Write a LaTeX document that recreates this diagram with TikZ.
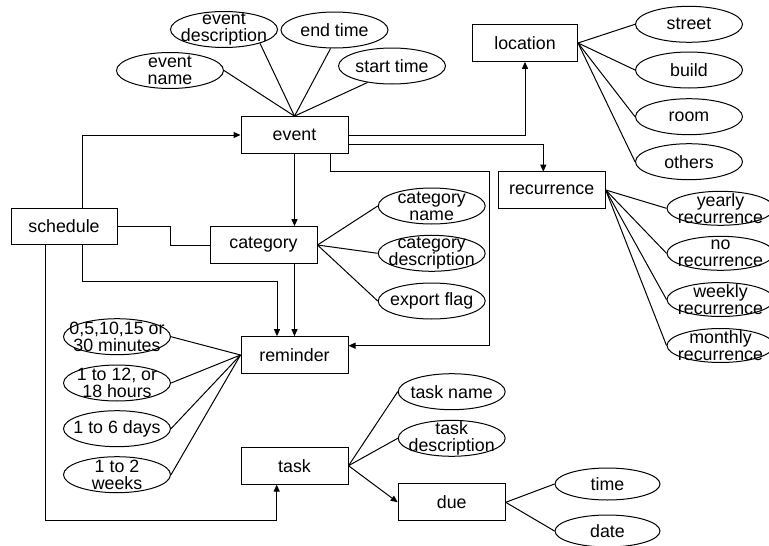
\documentclass[tikz,border=0pt]{standalone}
\usepackage{fontspec}
\setmainfont{Liberation Sans}
\usetikzlibrary{shapes.geometric,arrows.meta}
\newcommand\dfont{\fontsize{17.8}{17}\selectfont}
\tikzset{
  ent/.style={draw, line width=1pt, rectangle, minimum width=107pt, minimum height=36.7pt, inner sep=0pt, font=\dfont},
  lab/.style={align=center, font=\dfont, inner sep=0pt},
  attr/.style={draw, line width=1pt, ellipse, minimum width=107pt, minimum height=36pt, inner sep=0pt, label={[lab]center:#1}},
  conn/.style={line width=1pt},
  arr/.style={line width=1pt, -{Triangle[length=7pt,width=6pt]}}
}
\begin{document}
\begin{tikzpicture}[x=1pt, y=-1pt]
\useasboundingbox (0,0) rectangle (769,546);
\fill[white] (0,0) rectangle (769,546);
% entities
\node[ent] (event) at (294.5,135) {event};
\node[ent, minimum width=105pt] (location) at (525,43) {location};
\node[ent] (recurrence) at (551.7,190) {recurrence};
\node[ent, minimum width=106pt] (schedule) at (64,226.5) {schedule};
\node[ent] (category) at (263.5,245) {category};
\node[ent] (reminder) at (294.5,355) {reminder};
\node[ent] (task) at (294.5,465.7) {task};
\node[ent] (due) at (451.7,502.3) {due};
% event attributes
\node[attr={event\\description}] (ed) at (224,29.5) {};
\node[attr={end time}] (et) at (334.5,30) {};
\node[attr={event\\name}] (en) at (170,70.5) {};
\node[attr={start time}] (st) at (392,66) {};
% location attributes
\node[attr={street}] (street) at (689,24.3) {};
\node[attr={build}] (build) at (689,70) {};
\node[attr={room}] (room) at (689,116.7) {};
\node[attr={others}] (others) at (689,161.7) {};
% recurrence attributes
\node[attr={yearly\\recurrence}, minimum height=34pt] (yearly) at (720.5,208.3) {};
\node[attr={no\\recurrence}, minimum height=34pt] (norec) at (720.5,253.3) {};
\node[attr={weekly\\recurrence}, minimum height=34pt] (weekly) at (720.5,299.5) {};
\node[attr={monthly\\recurrence}, minimum height=34pt] (monthly) at (720.5,345.5) {};
% category attributes
\node[attr={category\\name}] (cn) at (431.7,206) {};
\node[attr={category\\description}] (cd) at (431.7,253.3) {};
\node[attr={export flag}] (ef) at (431.7,301) {};
% reminder attributes
\node[attr={0,5,10,15 or\\30 minutes}] (m30) at (117,336.7) {};
\node[attr={1 to 12, or\\18 hours}] (h18) at (117,383) {};
\node[attr={1 to 6 days}] (d6) at (117,428.7) {};
\node[attr={1 to 2\\weeks}] (w2) at (117,474.7) {};
% task attributes
\node[attr={task name}] (tn) at (451.7,391.7) {};
\node[attr={task\\description}] (td) at (451.7,438.3) {};
\node[attr={time}, minimum width=105pt, minimum height=32pt] (time) at (607.5,484) {};
\node[attr={date}, minimum width=105pt, minimum height=32pt] (date) at (607.5,531) {};
% helper coordinates
\coordinate (evb) at (348,144);
\coordinate (evc) at (330,153);
\coordinate (k0) at (489.3,171.7);
\coordinate (k1) at (489.3,345.7);
\coordinate (j1) at (170.7,245);
\coordinate (s1) at (82,245);
\coordinate (s2) at (277,281.7);
\coordinate (s3) at (45.7,245);
\coordinate (s4) at (276.7,520.7);
% event attribute links
\draw[conn] (en.east) -- (event.north);
\draw[conn] (ed.-21) -- (event.north);
\draw[conn] (et.-102) -- (event.north);
\draw[conn] (st.-146) -- (event.north);
% location links
\foreach \a in {street,build,room,others} \draw[conn] (location.east) -- (\a.west);
% recurrence links
\foreach \a in {yearly,norec,weekly,monthly} \draw[conn] (recurrence.east) -- (\a.west);
% category links
\foreach \a in {cn,cd,ef} \draw[conn] (category.east) -- (\a.west);
% reminder links
\foreach \a in {m30,h18,d6,w2} \draw[conn] (\a.east) -- (reminder.west);
% task links
\draw[conn] (task.east) -- (tn.west);
\draw[conn] (task.east) -- (td.west);
\draw[arr] (task.east) -- (due.west);
\draw[conn] (due.east) -- (time.west);
\draw[conn] (due.east) -- (date.west);
% structural arrows
\draw[arr] (s1 |- schedule.north) |- (event.west);
\draw[conn] (schedule.east) -| (j1) -- (category.west);
\draw[arr] (s1) |- (s2) -- (s2 |- reminder.north);
\draw[arr] (event.south) -- (event.south |- category.north);
\draw[arr] (category.south -| reminder.north) -- (reminder.north);
\draw[arr] (event.east) -| (location.south);
\draw[arr] (evb) -| (543.3,171.7);
\draw[arr] (evc) |- (k0) -- (k1) -- (k1 -| reminder.east);
\draw[arr] (s3) |- (s4) -- (s4 |- task.south);
\end{tikzpicture}
\end{document}
